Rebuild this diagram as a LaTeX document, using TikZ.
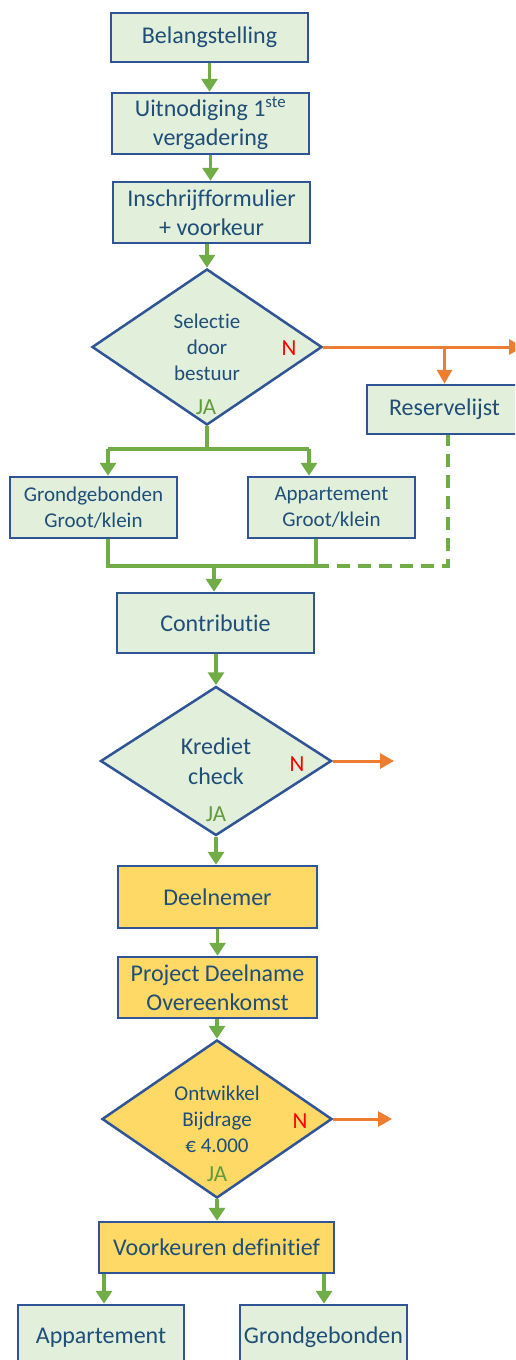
\documentclass[tikz,border=0pt]{standalone}
\usepackage{fontspec}
\setmainfont{Carlito}[Ligatures={NoCommon,NoContextual}]
\usetikzlibrary{shapes.geometric,arrows.meta}
\definecolor{lgreen}{HTML}{E2EFDA}
\definecolor{bordc}{HTML}{2F5597}
\definecolor{txtc}{HTML}{1F4E79}
\definecolor{lnG}{HTML}{70AD47}
\definecolor{lnO}{HTML}{ED7D31}
\definecolor{ylw}{HTML}{FFD966}
\definecolor{jaG}{HTML}{629A3E}
\newcommand{\bigf}{\fontsize{24}{29}\selectfont}
\newcommand{\smf}{\fontsize{21}{26}\selectfont}
\tikzset{
  box/.style={draw=bordc, line width=2.5pt, fill=lgreen, text=txtc, align=center, inner sep=0pt, font=\bigf},
  ybox/.style={box, fill=ylw},
  dia/.style={diamond, draw=bordc, line width=2.5pt, fill=lgreen, text=txtc, align=center, inner sep=0pt},
  garrow/.style={draw=lnG, line width=3.5pt, -{Triangle[length=13pt,width=16pt]}},
  gline/.style={draw=lnG, line width=3.5pt},
  oarrow/.style={draw=lnO, line width=3pt, -{Triangle[length=14pt,width=15pt]}},
  nlab/.style={text=red, font=\fontsize{23}{27}\selectfont},
  jalab/.style={text=jaG, font=\fontsize{23}{27}\selectfont},
}
\begin{document}
\begin{tikzpicture}[x=1pt,y=-1pt]
\useasboundingbox (0,0) rectangle (515,1360);
\clip (0,0) rectangle (515,1360);
\fill[white] (0,0) rectangle (515,1360);

% nodes
\node[box, minimum width=197pt, minimum height=49pt] (bel) at (209.5,37.5) {Belangstelling};
\node[box, minimum width=197pt, minimum height=61pt] (uit) at (210.5,123.5) {Uitnodiging 1\textsuperscript{ste}\\vergadering};
\node[box, minimum width=197pt, minimum height=61pt] (ins) at (211.5,212.5) {Inschrijfformulier\\+ voorkeur};
\node[dia, minimum width=230pt, minimum height=156pt, font=\smf] (sel) at (207,347) {Selectie\\door\\bestuur};
\node[nlab] (seln) at (289,348) {N};
\node[jalab] (selja) at (206,407) {JA};
\node[box, minimum width=155pt, minimum height=49pt] (res) at (444.5,409.5) {Reservelijst};
\node[box, minimum width=167pt, minimum height=61pt, font=\smf] (gr1) at (93.5,507.5) {Grondgebonden\\Groot/klein};
\node[box, minimum width=167pt, minimum height=61pt, font=\smf] (ap1) at (331.5,507.5) {Appartement\\Groot/klein};
\node[box, minimum width=197pt, minimum height=60pt] (con) at (215.5,623) {Contributie};
\node[dia, minimum width=231pt, minimum height=149pt, font=\fontsize{24}{30}\selectfont] (kre) at (216,761) {Krediet\\check};
\node[nlab] (kren) at (297,764) {N};
\node[jalab] (kreja) at (216,814) {JA};
\node[ybox, minimum width=199pt, minimum height=62pt] (dee) at (217.5,897) {Deelnemer};
\node[ybox, minimum width=199pt, minimum height=61pt] (pro) at (217.5,987.5) {Project Deelname\\Overeenkomst};
\node[dia, fill=ylw, minimum width=230pt, minimum height=158pt, font=\smf] (ont) at (217,1119) {Ontwikkel\\Bijdrage\\€ 4.000};
\node[nlab] (ontn) at (300,1121) {N};
\node[jalab] (ontja) at (217,1174) {JA};
\node[ybox, minimum width=235pt, minimum height=51pt] (voo) at (216.5,1247.5) {Voorkeuren definitief};
\node[box, minimum width=166pt, minimum height=65pt] (ap2) at (101,1337.5) {Appartement};
\node[box, minimum width=167pt, minimum height=65pt] (gr2) at (323.5,1337.5) {Grondgebonden};

% helper coordinates
\coordinate (oe1) at (523,347);
\coordinate (jsel) at (207,449);
\coordinate (gl) at (108,449);
\coordinate (gr) at (309,449);
\coordinate (bl) at (108,566);
\coordinate (bm) at (214,566);
\coordinate (br) at (316,566);
\coordinate (bd) at (448,566);
\coordinate (oe2) at (394,761);
\coordinate (oe3) at (392,1119);

% connectors
\draw[garrow] (bel.south) -- (bel.south |- uit.north);
\draw[garrow] (uit.south) -- (uit.south |- ins.north);
\draw[garrow] (sel.north |- ins.south) -- (sel.north);
\draw[oarrow] (sel.east) -- (oe1);
\draw[oarrow] (sel.east -| res.north) -- (res.north);
\draw[gline] (sel.south) -- (jsel);
\draw[gline] (gl) -- (gr);
\draw[garrow] (gl) -- (gl |- gr1.north);
\draw[garrow] (gr) -- (gr |- ap1.north);
\draw[gline] (bl |- gr1.south) -- (bl) -- (br) -- (br |- ap1.south);
\draw[gline, dash pattern=on 13pt off 8pt] (br) -- (bd) -- (bd |- res.south);
\draw[garrow] (bm) -- (bm |- con.north);
\draw[garrow] (kre.north |- con.south) -- (kre.north);
\draw[oarrow] (kre.east) -- (oe2);
\draw[garrow] (kre.south) -- (kre.south |- dee.north);
\draw[garrow] (dee.south) -- (dee.south |- pro.north);
\draw[garrow] (ont.north |- pro.south) -- (ont.north);
\draw[oarrow] (ont.east) -- (oe3);
\draw[garrow] (ont.south) -- (ont.south |- voo.north);
\draw[garrow] ([xshift=-112.5pt]voo.south) -- ([xshift=-112.5pt]voo.south |- ap2.north);
\draw[garrow] ([xshift=107.5pt]voo.south) -- ([xshift=107.5pt]voo.south |- gr2.north);
\end{tikzpicture}
\end{document}
